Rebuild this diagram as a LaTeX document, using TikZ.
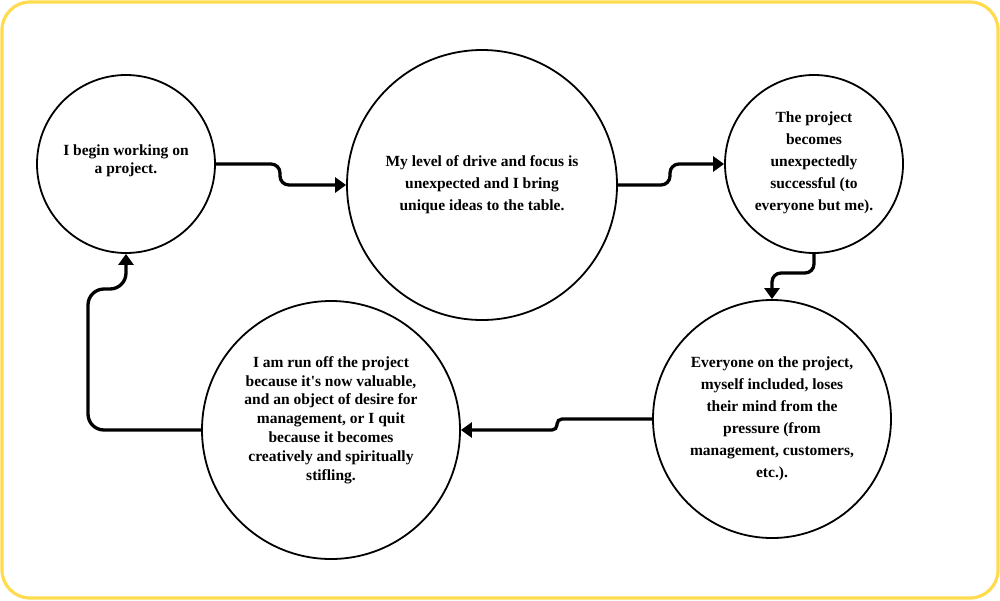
\documentclass[tikz,border=0pt]{standalone}
\usepackage{fontspec}
\setmainfont{Liberation Serif}
\usetikzlibrary{arrows.meta}
\definecolor{frameyellow}{HTML}{FFDB4F}
\begin{document}
\begin{tikzpicture}[x=1pt,y=-1pt,
  bubble/.style={draw=black, line width=1.8pt, circle, inner sep=0pt, align=center,
     font=\bfseries\fontsize{15.5}{22}\selectfont},
  conn/.style={draw=black, line width=3.3pt, rounded corners=9pt,
     -{Triangle[length=11pt,width=15pt]}}
]
\useasboundingbox (0,0) rectangle (1000,600);
\draw[frameyellow, line width=3.2pt, rounded corners=28pt] (2,2) rectangle (998,598);

\node[bubble, minimum size=178pt] (c1) at (126,164) {};
\node[font=\bfseries\fontsize{15.5}{18.5}\selectfont, align=center] (t1) at (126,161) {I begin working on\\a project.};

\node[bubble, minimum size=270pt] (c2) at (482,185) {My level of drive and focus is\\unexpected and I bring\\unique ideas to the table.};

\node[bubble, minimum size=178pt] (c3) at (814,164) {};
\node[font=\bfseries\fontsize{15.5}{22}\selectfont, align=center] (t3) at (814,163) {The project\\becomes\\unexpectedly\\successful (to\\everyone but me).};

\node[bubble, minimum size=238pt] (c4) at (772,419) {Everyone on the project,\\myself included, loses\\their mind from the\\pressure (from\\management, customers,\\etc.).};

\node[bubble, minimum size=258pt] (c5) at (331,430) {};
\node[font=\bfseries\fontsize{15.5}{18.8}\selectfont, align=center] (t5) at (331,420) {I am run off the project\\because it\textquotesingle s now valuable,\\and an object of desire for\\management, or I quit\\because it becomes\\creatively and spiritually\\stifling.};

\draw[conn] (c1.east) -- (280,164) -- (280,185) -- (c2.west);
\draw[conn] (c2.east) -- (670,185) -- (670,164) -- (c3.west);
\draw[conn] (c3.south) -- (814,273) -- (772,273) -- (c4.north);
\draw[conn, rounded corners=5pt] (c4.west) -- (557,419) -- (557,430) -- (c5.east);
\draw[conn, rounded corners=16pt] (c5.west) -- (88,430) -- (88,289) -- (126,289) -- (c1.south);
\end{tikzpicture}
\end{document}
